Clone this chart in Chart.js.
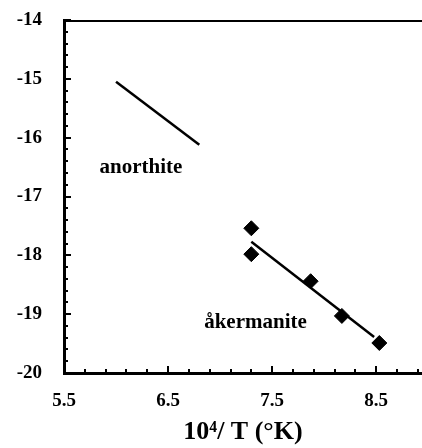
<!DOCTYPE html>
<html>
<head>
<meta charset="utf-8">
<script src="https://cdn.jsdelivr.net/npm/chart.js@4/dist/chart.umd.min.js"></script>
<style>
  html, body { margin: 0; padding: 0; background: #fff; }
  #wrap { width: 422px; height: 448px; position: relative; }
</style>
</head>
<body>
<div id="wrap"><canvas id="c" width="422" height="448"></canvas></div>
<script>
// ---- data ----
const anorthiteX = [6.0, 6.8];
const anorthiteY = [-15.05, -16.12];
const akermaniteX = [7.3, 7.3, 7.87, 8.17, 8.53];
const akermaniteY = [-17.54, -17.98, -18.44, -19.03, -19.49];
const akermaniteFitX = [7.3, 8.48];
const akermaniteFitY = [-17.77, -19.39];
const xTickLabels = [5.5, 6.5, 7.5, 8.5];
const yTickLabels = [-20, -19, -18, -17, -16, -15, -14];
const xTitle = '10⁴/ T (°K)';
const labelAnorthite = { text: 'anorthite', x: 6.24, y: -16.5 };
const labelAkermanite = { text: 'åkermanite', x: 7.34, y: -19.14 };

const pts = (xs, ys) => xs.map((x, i) => ({ x, y: ys[i] }));
const serif = '"Liberation Serif", "Times New Roman", serif';
const noPad = s => { s.paddingLeft = 0; s.paddingRight = 0; s.paddingTop = 0; s.paddingBottom = 0; };

const decor = {
  id: 'decor',
  afterDraw(chart) {
    const ctx = chart.ctx;
    const xs = chart.scales.x, ys = chart.scales.y;
    const a = chart.chartArea;
    ctx.save();
    ctx.strokeStyle = '#000';
    // top border
    ctx.lineWidth = 2;
    ctx.beginPath();
    ctx.moveTo(a.left, a.top + 1);
    ctx.lineTo(a.right, a.top + 1);
    ctx.stroke();
    // inward ticks
    ctx.lineWidth = 2;
    for (let i = 0; ; i++) {
      const v = xs.min + i * 0.2;
      if (v > xs.max + 1e-9) break;
      const major = Math.abs((v - 0.5) - Math.round(v - 0.5)) < 1e-6;
      const px = Math.round(xs.getPixelForValue(v));
      ctx.beginPath();
      ctx.moveTo(px, a.bottom);
      ctx.lineTo(px, a.bottom - (major ? 7 : 4));
      ctx.stroke();
    }
    for (let i = 0; ; i++) {
      const v = ys.min + i * 0.2;
      if (v > ys.max + 1e-9) break;
      const major = Math.abs(v - Math.round(v)) < 1e-6;
      const py = Math.round(ys.getPixelForValue(v));
      ctx.beginPath();
      ctx.moveTo(a.left, py);
      ctx.lineTo(a.left + (major ? 7 : 4), py);
      ctx.stroke();
    }
    // text annotations
    ctx.fillStyle = '#000';
    ctx.font = 'bold 21px ' + serif;
    ctx.textAlign = 'center';
    ctx.textBaseline = 'middle';
    [labelAnorthite, labelAkermanite].forEach(l => {
      ctx.fillText(l.text, xs.getPixelForValue(l.x), ys.getPixelForValue(l.y));
    });
    ctx.restore();
  }
};

new Chart(document.getElementById('c'), {
  type: 'scatter',
  data: {
    datasets: [
      {
        label: 'anorthite',
        data: pts(anorthiteX, anorthiteY),
        showLine: true,
        borderColor: '#000',
        borderWidth: 2.5,
        pointRadius: 0,
        fill: false
      },
      {
        label: 'åkermanite fit',
        data: pts(akermaniteFitX, akermaniteFitY),
        showLine: true,
        borderColor: '#000',
        borderWidth: 2.5,
        pointRadius: 0,
        fill: false
      },
      {
        label: 'åkermanite',
        data: pts(akermaniteX, akermaniteY),
        showLine: false,
        pointStyle: 'rectRot',
        pointRadius: 7.5,
        backgroundColor: '#000',
        borderColor: '#000',
        borderWidth: 1
      }
    ]
  },
  options: {
    responsive: false,
    animation: false,
    layout: { autoPadding: false, padding: { top: 20, right: 0, bottom: 0, left: 0 } },
    plugins: { legend: { display: false }, tooltip: { enabled: false } },
    scales: {
      x: {
        type: 'linear',
        min: 5.5,
        max: 8.94,
        afterBuildTicks: s => { s.ticks = xTickLabels.map(v => ({ value: v })); },
        afterFit: s => { s.height = 75; noPad(s); },
        grid: { display: false, drawTicks: false },
        border: { display: true, color: '#000', width: 3 },
        ticks: {
          color: '#000',
          padding: 17,
          maxRotation: 0,
          autoSkip: false,
          font: { family: serif, size: 19, weight: 'bold' },
          callback: v => v.toFixed(1)
        },
        title: {
          display: true,
          text: xTitle,
          color: '#000',
          font: { family: serif, size: 26, weight: 'bold' },
          padding: { top: 0, bottom: 0 }
        }
      },
      y: {
        type: 'linear',
        min: -20,
        max: -14,
        afterBuildTicks: s => { s.ticks = yTickLabels.map(v => ({ value: v })); },
        afterFit: s => { s.width = 64; noPad(s); },
        grid: { display: false, drawTicks: false },
        border: { display: true, color: '#000', width: 3 },
        ticks: {
          color: '#000',
          padding: 22,
          autoSkip: false,
          font: { family: serif, size: 19, weight: 'bold' },
          callback: v => String(v)
        }
      }
    }
  },
  plugins: [decor]
});
</script>
</body>
</html>
